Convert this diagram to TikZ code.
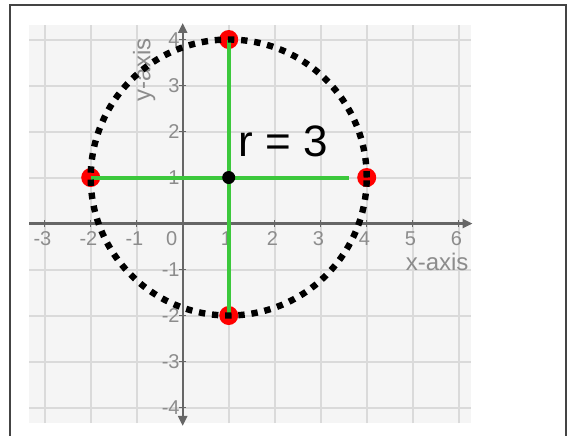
\documentclass[tikz,border=0pt]{standalone}
\usepackage{fontspec}
\setmainfont{Liberation Sans}
\usetikzlibrary{arrows.meta}
\definecolor{gridbg}{HTML}{F5F5F5}
\definecolor{gridln}{HTML}{DADADA}
\definecolor{axisc}{HTML}{666666}
\definecolor{ticklab}{HTML}{8C8C8C}
\definecolor{greenc}{HTML}{3CC83C}
\definecolor{framec}{HTML}{444444}
\tikzset{
  gridline/.style={gridln, line width=1pt},
  axisline/.style={axisc, line width=1.2pt},
  ticklabel/.style={ticklab, font=\fontsize{10}{11}\selectfont, inner sep=0pt},
  axislabel/.style={ticklab, font=\fontsize{12}{13}\selectfont, inner sep=0pt},
  greenline/.style={greenc, line width=2pt},
  reddot/.style={circle, fill=red, minimum size=9.5pt, inner sep=0pt},
  centerdot/.style={circle, fill=black, minimum size=6.5pt, inner sep=0pt},
  dotcircle/.style={black, line width=3.2pt, dash pattern=on 3.2pt off 3.4pt},
  framel/.style={framec, line width=1pt},
  rlabel/.style={font=\fontsize{22}{24}\selectfont, inner sep=0pt}
}
\begin{document}
\begin{tikzpicture}[x=23pt, y=23pt]
\useasboundingbox (-3.972,4.859) rectangle (8.376,-4.598);
% frame
\draw[framel] (-3.754,-4.8) -- (-3.754,4.75) -- (8.333,4.75) -- (8.333,-4.8);
% grid background
\fill[gridbg] (-3.34,-4.34) rectangle (6.27,4.32);
\foreach \x in {-3,...,6} \draw[gridline] (\x,-4.34) -- (\x,4.32);
\foreach \y in {-4,...,4} \draw[gridline] (-3.34,\y) -- (6.27,\y);
% axes
\draw[axisline, -{Triangle[length=5pt,width=4.5pt]}] (-3.34,0) -- (6.3,0);
\draw[axisline, {Triangle[length=5pt,width=4.5pt]}-{Triangle[length=5pt,width=4.5pt]}] (0,-4.4) -- (0,4.36);
\foreach \x in {-3,...,6} \draw[axisc, line width=0.6pt] (\x,-0.07) -- (\x,0.07);
\foreach \y in {-4,...,4} \draw[axisc, line width=0.6pt] (-0.07,\y) -- (0.07,\y);
% tick labels
\foreach \x in {-3,-2,-1,1,2,3,4,5,6} \node[ticklabel] (xl\x) at (\x-0.05,-0.33) {\x};
\node[ticklabel] (xl0) at (-0.24,-0.33) {0};
\foreach \y in {-4,-3,-2,-1,1,2,3,4} \node[ticklabel, anchor=east] (yl\y) at (-0.06,\y) {\y};
\node[axislabel, rotate=90] (ylab) at (-0.84,3.34) {y-axis};
\node[axislabel] (xlab) at (5.53,-0.83) {x-axis};
% points
\coordinate (C) at (1,1);
\node[reddot] (T) at (1,4) {};
\node[reddot] (B) at (1,-2) {};
\node[reddot] (L) at (-2,1) {};
\node[reddot] (R) at (4,1) {};
\coordinate (Hend) at (3.62,1);
% green radii
\draw[greenline] (L.center) -- (Hend);
\draw[greenline] (T.center) -- (B.center);
\node[centerdot] (Cd) at (C) {};
% label
\node[rlabel] (rl) at (2.18,1.79) {r = 3};
% dotted circle
\draw[dotcircle] (C) circle[radius=3];
\end{tikzpicture}
\end{document}
